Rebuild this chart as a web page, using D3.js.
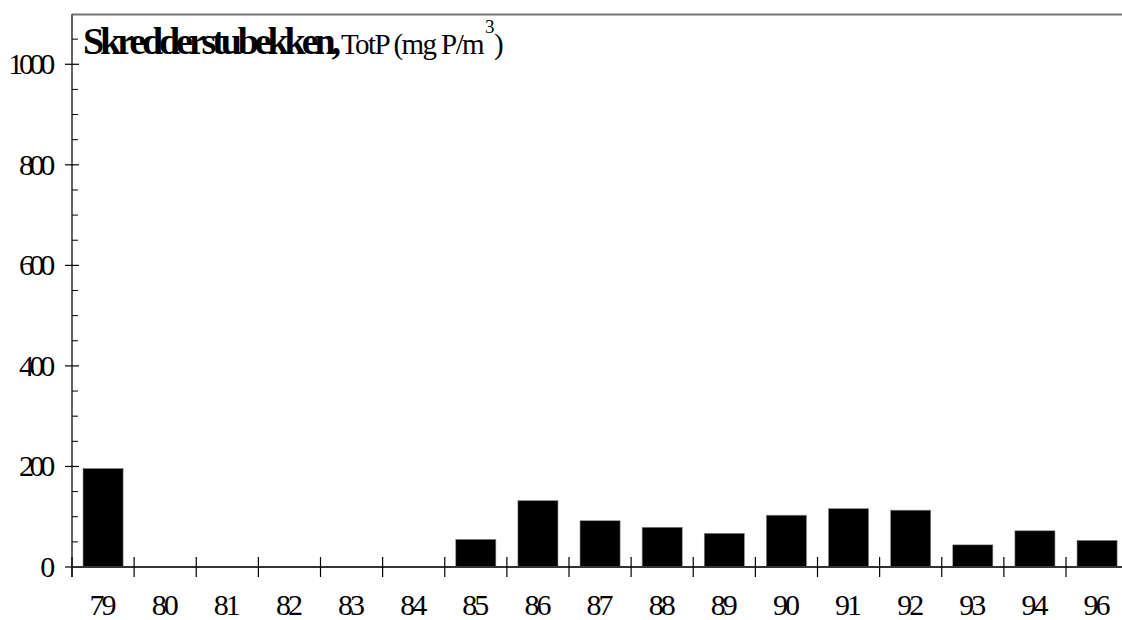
<!DOCTYPE html>
<html>
<head>
<meta charset="utf-8">
<script src="https://cdn.jsdelivr.net/npm/d3@7"></script>
</head>
<body style="margin:0;padding:0;background:#fff">
<svg id="chart" width="1122" height="620" style="display:block"></svg>
<script>
const years = ["79","80","81","82","83","84","85","86","87","88","89","90","91","92","93","94","96"];
const totP  = [196, null, null, null, null, null, 55, 132, 92, 79, 67, 103, 116, 113, 44, 72, 53];
const yMajorTicks = [0, 200, 400, 600, 800, 1000];
const yMinorTicks = [50,100,150,250,300,350,450,500,550,650,700,750,850,900,950,1050];
const titleBold = "Skredderstubekken,";
const titleRest = "TotP (mg P/m";
const titleSup = "3";
const titleEnd = ")";

(function () {
const FONT = '"Liberation Serif"';
const svg = d3.select("#chart");
const pLeft = 72, pTop = 14, pBottom = 567, step = 62.125;
const pRight = pLeft + years.length * step;

const x = d3.scaleBand().domain(years).range([pLeft, pRight]).paddingInner(0.355).paddingOuter(0.1775);
const y = d3.scaleLinear().domain([0, 1100]).range([pBottom, pTop]);

// bars
svg.append("g").selectAll("rect")
  .data(years.map((d, i) => ({year: d, v: totP[i]})).filter(d => d.v != null))
  .join("rect")
  .attr("x", d => x(d.year))
  .attr("width", x.bandwidth())
  .attr("y", d => y(d.v))
  .attr("height", d => y(0) - y(d.v))
  .attr("fill", "#000")
  .attr("stroke", "#888")
  .attr("stroke-width", 0.6);

// top border
svg.append("line").attr("x1", pLeft).attr("x2", 1122).attr("y1", y(1100)+0.5).attr("y2", y(1100)+0.5)
  .attr("stroke", "#777").attr("stroke-width", 2);

// left axis line
svg.append("line").attr("x1", pLeft).attr("x2", pLeft).attr("y1", y(1100)).attr("y2", pBottom + 10)
  .attr("stroke", "#555").attr("stroke-width", 1.8);

// y ticks
svg.append("g").selectAll("line").data(yMajorTicks).join("line")
  .attr("x1", pLeft - 7).attr("x2", pLeft + 7)
  .attr("y1", d => y(d)).attr("y2", d => y(d))
  .attr("stroke", "#000").attr("stroke-width", 1.2);
svg.append("g").selectAll("line").data(yMinorTicks).join("line")
  .attr("x1", pLeft).attr("x2", pLeft + 6)
  .attr("y1", d => y(d)).attr("y2", d => y(d))
  .attr("stroke", "#000").attr("stroke-width", 1);

// y labels (tight letter spacing like the reference)
svg.append("g").selectAll("text").data(yMajorTicks).join("text")
  .attr("x", pLeft - 21).attr("y", d => y(d) + 10)
  .attr("text-anchor", "end")
  .style("font-family", FONT).style("font-size", "30px").style("letter-spacing", "-4.3px")
  .text(d => d);

// baseline
svg.append("line").attr("x1", pLeft).attr("x2", 1122).attr("y1", y(0)).attr("y2", y(0))
  .attr("stroke", "#333").attr("stroke-width", 2);

// x ticks at band boundaries
const bounds = years.map(d => x(d) - x.step() * x.paddingInner() / 2);
svg.append("g").selectAll("line").data(bounds).join("line")
  .attr("x1", d => d).attr("x2", d => d)
  .attr("y1", y(0) - 10).attr("y2", y(0) + 10)
  .attr("stroke", "#000").attr("stroke-width", 1.2);

// x labels
svg.append("g").selectAll("text").data(years).join("text")
  .attr("x", d => x(d) + x.bandwidth()/2 - 1.5).attr("y", 615)
  .attr("text-anchor", "middle")
  .style("font-family", FONT).style("font-size", "30px").style("letter-spacing", "-3px")
  .text(d => d);

// title
function addText(str, px, py, size, weight, ls) {
  svg.append("text").attr("x", px).attr("y", py)
    .style("font-family", FONT).style("font-size", size + "px").style("font-weight", weight)
    .style("letter-spacing", ls + "px").text(str);
}
addText(titleBold, 83, 54, 38, "bold", -4.1);
addText(titleRest, 341, 54, 29, "normal", -1.6);
addText(titleSup, 485, 33, 19, "normal", 0);
addText(titleEnd, 494, 54, 29, "normal", 0);
})();
</script>
</body>
</html>
